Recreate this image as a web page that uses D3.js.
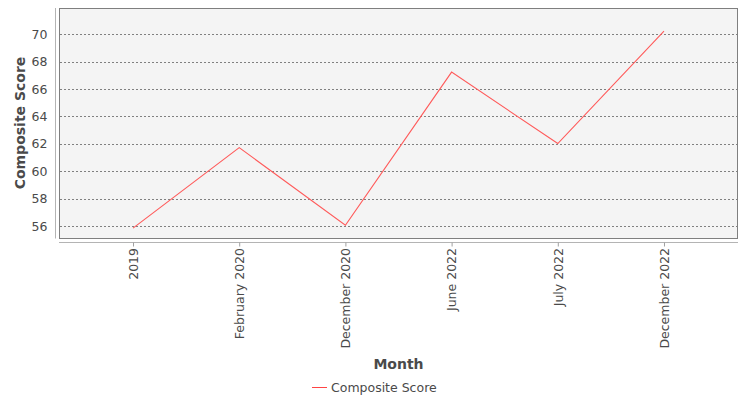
<!DOCTYPE html>
<html>
<head>
<meta charset="utf-8">
<script src="https://cdn.jsdelivr.net/npm/d3@7"></script>
<style>
  body { margin: 0; background: #fff; }
  svg { font-family: "DejaVu Sans", sans-serif; }
</style>
</head>
<body>
<svg id="chart" width="750" height="400"></svg>
<script>
const months = ["2019", "February 2020", "December 2020", "June 2022", "July 2022", "December 2022"];
const scores = [55.87, 61.73, 56.08, 67.23, 62.03, 70.22];
const yTicks = [56, 58, 60, 62, 64, 66, 68, 70];
const seriesName = "Composite Score";

const plot = { left: 59, top: 8, right: 738, bottom: 238 };
const svg = d3.select("#chart");

const x = d3.scalePoint()
  .domain(months)
  .range([plot.left, plot.right])
  .padding(0.697);

const y = d3.scaleLinear()
  .domain([55.15, 71.9])
  .range([plot.bottom, plot.top]);

// plot background
svg.append("rect")
  .attr("x", plot.left + 0.5)
  .attr("y", plot.top + 0.5)
  .attr("width", plot.right - plot.left - 1)
  .attr("height", plot.bottom - plot.top)
  .attr("fill", "#f4f4f4")
  .attr("stroke", "#7f7f7f")
  .attr("stroke-width", 1);

// horizontal gridlines
svg.append("g")
  .selectAll("line")
  .data(yTicks)
  .enter()
  .append("line")
  .attr("x1", plot.left + 1)
  .attr("x2", plot.right - 1)
  .attr("y1", d => Math.round(y(d)) + 0.5)
  .attr("y2", d => Math.round(y(d)) + 0.5)
  .attr("stroke", "#808080")
  .attr("stroke-width", 1)
  .attr("stroke-dasharray", "2,2");

// y axis
const yAxis = svg.append("g")
  .attr("transform", "translate(55.5,0)")
  .call(d3.axisLeft(y).tickValues(yTicks).tickSize(0).tickPadding(8));
yAxis.select(".domain")
  .attr("d", `M0,${plot.top}V${plot.bottom + 0.5}`)
  .attr("stroke", "#b4b4b4");
yAxis.selectAll("text")
  .style("font-size", "12.5px")
  .style("font-family", "DejaVu Sans, sans-serif")
  .attr("fill", "#4a4a4a");

// x axis
const xAxis = svg.append("g")
  .attr("transform", "translate(0,242.5)")
  .call(d3.axisBottom(x).tickSize(4).tickPadding(6).tickSizeOuter(0));
xAxis.select(".domain")
  .attr("d", `M${plot.left},0H${plot.right}`)
  .attr("stroke", "#b4b4b4");
xAxis.selectAll(".tick line").attr("stroke", "#a0a0a0");
xAxis.selectAll("text")
  .style("font-size", "12.5px")
  .style("font-family", "DejaVu Sans, sans-serif")
  .attr("fill", "#4a4a4a")
  .style("text-anchor", "end")
  .attr("transform", "rotate(-90)")
  .attr("x", -5.5)
  .attr("y", 0)
  .attr("dy", "0.35em");

// series line
const line = d3.line()
  .x((d, i) => x(months[i]))
  .y(d => y(d));

svg.append("path")
  .datum(scores)
  .attr("fill", "none")
  .attr("stroke", "#ff5a5a")
  .attr("stroke-width", 1.1)
  .attr("d", line);

// axis titles
svg.append("text")
  .attr("transform", `translate(25,${(plot.top + plot.bottom) / 2}) rotate(-90)`)
  .style("text-anchor", "middle")
  .style("font-size", "14px")
  .style("font-weight", "bold")
  .attr("fill", "#4a4a4a")
  .text("Composite Score");

svg.append("text")
  .attr("x", (plot.left + plot.right) / 2)
  .attr("y", 369)
  .style("text-anchor", "middle")
  .style("font-size", "14px")
  .style("font-weight", "bold")
  .attr("fill", "#4a4a4a")
  .text("Month");

// legend
const legend = svg.append("g").attr("transform", "translate(312,387.5)");
legend.append("line")
  .attr("x1", 0).attr("x2", 15)
  .attr("stroke", "#ff4444")
  .attr("stroke-width", 1);
legend.append("text")
  .attr("x", 19)
  .attr("dy", "0.35em")
  .style("font-size", "12.5px")
  .attr("fill", "#4a4a4a")
  .text(seriesName);
</script>
</body>
</html>
